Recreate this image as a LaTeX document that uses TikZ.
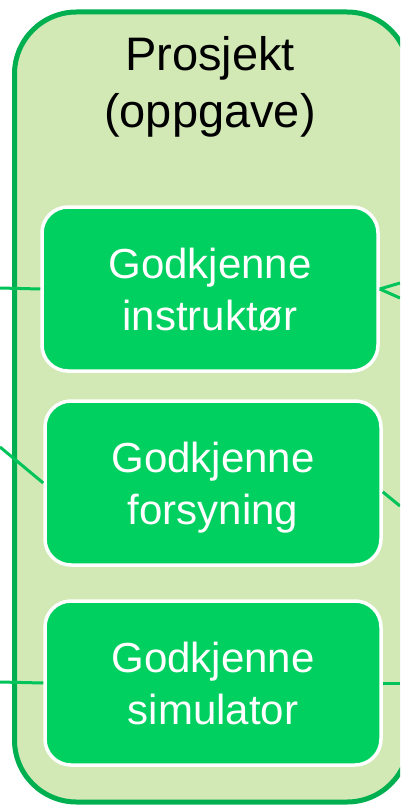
\documentclass[tikz,border=0pt]{standalone}
\usepackage{fontspec}
\setmainfont{Liberation Sans}
\definecolor{projfill}{RGB}{210,233,181}
\definecolor{projline}{RGB}{0,176,80}
\definecolor{boxfill}{RGB}{0,208,95}
\definecolor{linkcol}{RGB}{0,196,90}
\tikzset{
  proj/.style={draw=projline,fill=projfill,line width=5pt,rounded corners=62pt,
    minimum width=394.5pt,minimum height=790pt,inner sep=0pt},
  godk/.style={draw=white,fill=boxfill,line width=3.5pt,rounded corners=26pt,
    minimum width=336pt,minimum height=164pt,inner sep=0pt,text=white,align=center,
    font=\fontsize{42}{52}\selectfont,text height=83pt,text depth=1pt},
  ttl/.style={anchor=north,align=center,inner sep=0pt,
    font=\fontsize{47}{57}\selectfont,text height=91pt},
  link/.style={draw=linkcol,line width=3pt}
}
\begin{document}
\begin{tikzpicture}[x=1pt,y=-1pt]
      \useasboundingbox (0,0) rectangle (400,805);
      \clip (0,0) rectangle (400,805);
      \node[proj] (p) at (211.75,407) {};
      \node[ttl] (t) at (210,36) {Prosjekt\\(oppgave)};
      \node[godk] (a) at (210,289) {Godkjenne\\instruktør};
      \node[godk] (b) at (213,483) {Godkjenne\\forsyning};
      \node[godk] (c) at (213,683) {Godkjenne\\simulator};
      \coordinate (l1) at (0,288);
      \coordinate (l2) at (0,447);
      \coordinate (l3) at (0,682);
      \coordinate (r1) at (400,283);
      \coordinate (r2) at (400,298);
      \coordinate (r3) at (400,506);
      \coordinate (r4) at (400,683);
      \draw[link] (l1) -- (a.west);
      \draw[link] (l2) -- (b.west);
      \draw[link] (l3) -- (c.west);
      \draw[link] (a.east) -- (r1);
      \draw[link] (a.east) -- (r2);
      \draw[link] (b.-3) -- (r3);
      \draw[link] (c.east) -- (r4);
    \end{tikzpicture}
\end{document}
